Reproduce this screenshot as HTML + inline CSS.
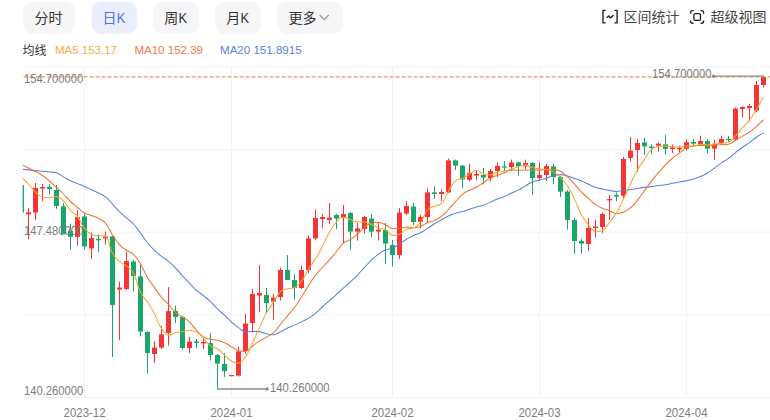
<!DOCTYPE html><html><head><meta charset="utf-8"><title>K</title><style>html,body{margin:0;padding:0;background:#fff;overflow:hidden}svg{display:block}</style></head><body><svg width="770" height="420" viewBox="0 0 770 420"><rect width="770" height="420" fill="#fff"/><rect x="23.0" y="1.7" width="52.0" height="32" rx="9.5" fill="#f6f6f8"/><text x="34.60" y="22.70" font-size="14" fill="#333" text-anchor="start" font-family="Liberation Sans, Noto Sans CJK SC, sans-serif">分时</text><rect x="91.4" y="1.7" width="45.6" height="32" rx="9.5" fill="#ebeffd"/><text x="102.50" y="22.70" font-size="14" fill="#4d74e0" text-anchor="start" font-family="Liberation Sans, Noto Sans CJK SC, sans-serif">日</text><text x="116.80" y="22.70" font-size="14.00" fill="#4d74e0" text-anchor="start" font-family="Liberation Sans, sans-serif" textLength="8.60" lengthAdjust="spacingAndGlyphs" >K</text><rect x="153.0" y="1.7" width="46.0" height="32" rx="9.5" fill="#f6f6f8"/><text x="164.30" y="22.70" font-size="14" fill="#333" text-anchor="start" font-family="Liberation Sans, Noto Sans CJK SC, sans-serif">周</text><text x="178.60" y="22.70" font-size="14.00" fill="#333" text-anchor="start" font-family="Liberation Sans, sans-serif" textLength="8.60" lengthAdjust="spacingAndGlyphs" >K</text><rect x="215.0" y="1.7" width="46.0" height="32" rx="9.5" fill="#f6f6f8"/><text x="226.30" y="22.70" font-size="14" fill="#333" text-anchor="start" font-family="Liberation Sans, Noto Sans CJK SC, sans-serif">月</text><text x="240.60" y="22.70" font-size="14.00" fill="#333" text-anchor="start" font-family="Liberation Sans, sans-serif" textLength="8.60" lengthAdjust="spacingAndGlyphs" >K</text><rect x="277.0" y="1.7" width="66.0" height="32" rx="9.5" fill="#f6f6f8"/><text x="288.60" y="22.70" font-size="14" fill="#333" text-anchor="start" font-family="Liberation Sans, Noto Sans CJK SC, sans-serif">更多</text><path d="M319.6 15 L324.2 19.6 L328.8 15" fill="none" stroke="#999" stroke-width="1.2"/><path d="M605.6 10.4 H603 V22.9 H605.6 M614.5 10.4 H617.1 V22.9 H614.5 M606.8 17.8 L608.7 16 L610.6 17.9 L613.5 15" fill="none" stroke="#1c1c1c" stroke-width="1.35" stroke-linejoin="round"/><text x="623.60" y="22.00" font-size="14" fill="#444" text-anchor="start" font-family="Liberation Sans, Noto Sans CJK SC, sans-serif">区间统计</text><path d="M690.6 13.7 V12.7 a2 2 0 0 1 2 -2 H693.6 M700.6 10.7 H701.6 a2 2 0 0 1 2 2 V13.7 M703.6 20.4 V21.3 a2 2 0 0 1 -2 2 H700.6 M693.6 23.3 H692.6 a2 2 0 0 1 -2 -2 V20.4" fill="none" stroke="#1c1c1c" stroke-width="1.3"/><rect x="693.9" y="13.6" width="6.6" height="6.8" rx="1.5" fill="none" stroke="#1c1c1c" stroke-width="1.3"/><text x="710.40" y="22.00" font-size="14" fill="#444" text-anchor="start" font-family="Liberation Sans, Noto Sans CJK SC, sans-serif">超级视图</text><text x="22.60" y="54.60" font-size="12" fill="#333" text-anchor="start" font-family="Liberation Sans, Noto Sans CJK SC, sans-serif">均线</text><text x="55.00" y="54.00" font-size="11.50" fill="#f6ab4a" text-anchor="start" font-family="Liberation Sans, sans-serif" textLength="62.00" lengthAdjust="spacingAndGlyphs" >MA5 153.17</text><text x="134.40" y="54.00" font-size="11.50" fill="#ef7a4c" text-anchor="start" font-family="Liberation Sans, sans-serif" textLength="68.60" lengthAdjust="spacingAndGlyphs" >MA10 152.39</text><text x="220.00" y="54.00" font-size="11.50" fill="#5a82e6" text-anchor="start" font-family="Liberation Sans, sans-serif" textLength="81.60" lengthAdjust="spacingAndGlyphs" >MA20 151.8915</text><line x1="22" x2="770" y1="67.0" y2="67.0" stroke="#f3f3f6" stroke-width="1"/><line x1="22" x2="770" y1="149.6" y2="149.6" stroke="#f3f3f6" stroke-width="1"/><line x1="22" x2="770" y1="232.2" y2="232.2" stroke="#f3f3f6" stroke-width="1"/><line x1="22" x2="770" y1="314.8" y2="314.8" stroke="#f3f3f6" stroke-width="1"/><line x1="22" x2="770" y1="397.4" y2="397.4" stroke="#f3f3f6" stroke-width="1"/><line x1="84.5" x2="84.5" y1="67" y2="397.4" stroke="#f3f3f6" stroke-width="1"/><line x1="231.5" x2="231.5" y1="67" y2="397.4" stroke="#f3f3f6" stroke-width="1"/><line x1="392.5" x2="392.5" y1="67" y2="397.4" stroke="#f3f3f6" stroke-width="1"/><line x1="539.5" x2="539.5" y1="67" y2="397.4" stroke="#f3f3f6" stroke-width="1"/><line x1="686.5" x2="686.5" y1="67" y2="397.4" stroke="#f3f3f6" stroke-width="1"/><clipPath id="cp"><rect x="22.7" y="60" width="748" height="340"/></clipPath><g clip-path="url(#cp)"><rect x="21.0" y="185.0" width="1" height="27.6" fill="#1aa668"/><rect x="19.0" y="185.0" width="5" height="27.6" fill="#1aa668"/><rect x="28.0" y="207.9" width="1" height="31.4" fill="#f53535"/><rect x="26.0" y="212.3" width="5" height="2.0" fill="#f53535"/><rect x="35.0" y="183.0" width="1" height="37.0" fill="#f53535"/><rect x="33.0" y="188.0" width="5" height="24.5" fill="#f53535"/><rect x="42.0" y="184.0" width="1" height="17.0" fill="#f53535"/><rect x="40.0" y="187.0" width="5" height="1.6" fill="#f53535"/><rect x="49.0" y="184.0" width="1" height="10.4" fill="#1aa668"/><rect x="47.0" y="186.8" width="5" height="2.2" fill="#1aa668"/><rect x="56.0" y="185.0" width="1" height="23.8" fill="#1aa668"/><rect x="54.0" y="190.0" width="5" height="16.0" fill="#1aa668"/><rect x="63.0" y="203.0" width="1" height="31.5" fill="#1aa668"/><rect x="61.0" y="206.4" width="5" height="27.9" fill="#1aa668"/><rect x="70.0" y="223.6" width="1" height="26.0" fill="#1aa668"/><rect x="68.0" y="230.7" width="5" height="6.2" fill="#1aa668"/><rect x="77.0" y="210.0" width="1" height="35.7" fill="#f53535"/><rect x="75.0" y="217.0" width="5" height="19.9" fill="#f53535"/><rect x="84.0" y="213.6" width="1" height="36.0" fill="#1aa668"/><rect x="82.0" y="216.4" width="5" height="30.0" fill="#1aa668"/><rect x="91.0" y="232.5" width="1" height="26.5" fill="#f53535"/><rect x="89.0" y="238.0" width="5" height="10.5" fill="#f53535"/><rect x="98.0" y="234.3" width="1" height="17.7" fill="#1aa668"/><rect x="96.0" y="238.9" width="5" height="1.4" fill="#1aa668"/><rect x="105.0" y="231.5" width="1" height="13.0" fill="#f53535"/><rect x="103.0" y="236.5" width="5" height="1.8" fill="#f53535"/><rect x="112.0" y="236.0" width="1" height="121.0" fill="#1aa668"/><rect x="110.0" y="236.4" width="5" height="68.6" fill="#1aa668"/><rect x="119.0" y="281.6" width="1" height="58.4" fill="#f53535"/><rect x="117.0" y="287.5" width="5" height="2.0" fill="#f53535"/><rect x="126.0" y="252.0" width="1" height="38.0" fill="#f53535"/><rect x="124.0" y="261.0" width="5" height="28.0" fill="#f53535"/><rect x="133.0" y="260.0" width="1" height="31.6" fill="#1aa668"/><rect x="131.0" y="261.6" width="5" height="14.4" fill="#1aa668"/><rect x="140.0" y="264.0" width="1" height="72.4" fill="#1aa668"/><rect x="138.0" y="276.4" width="5" height="55.2" fill="#1aa668"/><rect x="147.0" y="331.0" width="1" height="42.6" fill="#1aa668"/><rect x="145.0" y="332.0" width="5" height="21.0" fill="#1aa668"/><rect x="154.0" y="341.0" width="1" height="22.0" fill="#f53535"/><rect x="152.0" y="347.6" width="5" height="6.4" fill="#f53535"/><rect x="161.0" y="326.0" width="1" height="23.0" fill="#f53535"/><rect x="159.0" y="334.4" width="5" height="13.2" fill="#f53535"/><rect x="168.0" y="287.0" width="1" height="58.6" fill="#f53535"/><rect x="166.0" y="311.0" width="5" height="22.0" fill="#f53535"/><rect x="175.0" y="305.6" width="1" height="17.4" fill="#1aa668"/><rect x="173.0" y="311.0" width="5" height="6.0" fill="#1aa668"/><rect x="182.0" y="316.0" width="1" height="33.6" fill="#1aa668"/><rect x="180.0" y="317.0" width="5" height="31.0" fill="#1aa668"/><rect x="189.0" y="337.0" width="1" height="16.0" fill="#f53535"/><rect x="187.0" y="341.6" width="5" height="6.4" fill="#f53535"/><rect x="196.0" y="339.0" width="1" height="9.0" fill="#1aa668"/><rect x="194.0" y="341.5" width="5" height="1.5" fill="#1aa668"/><rect x="203.0" y="338.0" width="1" height="11.0" fill="#f53535"/><rect x="201.0" y="342.0" width="5" height="1.5" fill="#f53535"/><rect x="210.0" y="333.0" width="1" height="27.4" fill="#1aa668"/><rect x="208.0" y="343.0" width="5" height="12.0" fill="#1aa668"/><rect x="217.0" y="354.0" width="1" height="35.5" fill="#1aa668"/><rect x="215.0" y="355.0" width="5" height="8.6" fill="#1aa668"/><rect x="224.0" y="353.0" width="1" height="24.0" fill="#1aa668"/><rect x="222.0" y="364.0" width="5" height="7.0" fill="#1aa668"/><rect x="231.0" y="375.0" width="1" height="1.2" fill="#f53535"/><rect x="229.0" y="375.0" width="5" height="1.2" fill="#f53535"/><rect x="238.0" y="346.6" width="1" height="30.0" fill="#f53535"/><rect x="236.0" y="351.4" width="5" height="24.2" fill="#f53535"/><rect x="245.0" y="313.6" width="1" height="40.0" fill="#f53535"/><rect x="243.0" y="323.6" width="5" height="27.4" fill="#f53535"/><rect x="252.0" y="289.0" width="1" height="43.4" fill="#f53535"/><rect x="250.0" y="294.0" width="5" height="29.0" fill="#f53535"/><rect x="259.0" y="265.0" width="1" height="47.0" fill="#f53535"/><rect x="257.0" y="293.0" width="5" height="2.6" fill="#f53535"/><rect x="266.0" y="288.0" width="1" height="26.0" fill="#1aa668"/><rect x="264.0" y="295.0" width="5" height="8.0" fill="#1aa668"/><rect x="273.0" y="294.0" width="1" height="25.6" fill="#f53535"/><rect x="271.0" y="297.6" width="5" height="4.0" fill="#f53535"/><rect x="280.0" y="267.6" width="1" height="32.8" fill="#f53535"/><rect x="278.0" y="270.0" width="5" height="27.0" fill="#f53535"/><rect x="287.0" y="255.0" width="1" height="25.0" fill="#1aa668"/><rect x="285.0" y="270.0" width="5" height="10.0" fill="#1aa668"/><rect x="294.0" y="274.0" width="1" height="25.6" fill="#1aa668"/><rect x="292.0" y="280.0" width="5" height="8.0" fill="#1aa668"/><rect x="301.0" y="265.6" width="1" height="23.4" fill="#f53535"/><rect x="299.0" y="270.0" width="5" height="18.0" fill="#f53535"/><rect x="308.0" y="235.6" width="1" height="37.4" fill="#f53535"/><rect x="306.0" y="238.4" width="5" height="31.6" fill="#f53535"/><rect x="315.0" y="209.4" width="1" height="31.0" fill="#f53535"/><rect x="313.0" y="218.0" width="5" height="20.4" fill="#f53535"/><rect x="322.0" y="214.0" width="1" height="14.4" fill="#f53535"/><rect x="320.0" y="217.0" width="5" height="2.0" fill="#f53535"/><rect x="329.0" y="203.0" width="1" height="21.0" fill="#f53535"/><rect x="327.0" y="217.6" width="5" height="2.4" fill="#f53535"/><rect x="336.0" y="213.6" width="1" height="15.4" fill="#1aa668"/><rect x="334.0" y="215.0" width="5" height="3.6" fill="#1aa668"/><rect x="343.0" y="205.0" width="1" height="38.0" fill="#f53535"/><rect x="341.0" y="214.0" width="5" height="4.0" fill="#f53535"/><rect x="350.0" y="212.0" width="1" height="37.6" fill="#1aa668"/><rect x="348.0" y="213.0" width="5" height="18.6" fill="#1aa668"/><rect x="357.0" y="223.0" width="1" height="17.6" fill="#f53535"/><rect x="355.0" y="228.4" width="5" height="3.2" fill="#f53535"/><rect x="364.0" y="215.6" width="1" height="18.0" fill="#f53535"/><rect x="362.0" y="217.0" width="5" height="12.0" fill="#f53535"/><rect x="371.0" y="214.0" width="1" height="23.0" fill="#1aa668"/><rect x="369.0" y="218.6" width="5" height="13.0" fill="#1aa668"/><rect x="378.0" y="223.0" width="1" height="17.4" fill="#f53535"/><rect x="376.0" y="229.6" width="5" height="2.0" fill="#f53535"/><rect x="385.0" y="223.0" width="1" height="41.0" fill="#1aa668"/><rect x="383.0" y="230.0" width="5" height="13.6" fill="#1aa668"/><rect x="392.0" y="240.0" width="1" height="26.6" fill="#1aa668"/><rect x="390.0" y="245.0" width="5" height="10.0" fill="#1aa668"/><rect x="399.0" y="208.0" width="1" height="51.0" fill="#f53535"/><rect x="397.0" y="212.6" width="5" height="42.4" fill="#f53535"/><rect x="406.0" y="201.0" width="1" height="14.0" fill="#f53535"/><rect x="404.0" y="206.0" width="5" height="7.6" fill="#f53535"/><rect x="413.0" y="203.0" width="1" height="22.0" fill="#1aa668"/><rect x="411.0" y="206.6" width="5" height="15.4" fill="#1aa668"/><rect x="420.0" y="215.0" width="1" height="13.4" fill="#f53535"/><rect x="418.0" y="217.0" width="5" height="5.0" fill="#f53535"/><rect x="427.0" y="188.4" width="1" height="34.6" fill="#f53535"/><rect x="425.0" y="192.4" width="5" height="24.6" fill="#f53535"/><rect x="434.0" y="186.6" width="1" height="12.4" fill="#1aa668"/><rect x="432.0" y="192.4" width="5" height="1.6" fill="#1aa668"/><rect x="441.0" y="189.0" width="1" height="12.0" fill="#f53535"/><rect x="439.0" y="192.0" width="5" height="2.0" fill="#f53535"/><rect x="448.0" y="158.4" width="1" height="34.6" fill="#f53535"/><rect x="446.0" y="160.4" width="5" height="32.0" fill="#f53535"/><rect x="455.0" y="159.6" width="1" height="10.4" fill="#1aa668"/><rect x="453.0" y="160.4" width="5" height="5.2" fill="#1aa668"/><rect x="462.0" y="164.6" width="1" height="23.4" fill="#1aa668"/><rect x="460.0" y="165.6" width="5" height="13.8" fill="#1aa668"/><rect x="469.0" y="163.8" width="1" height="17.7" fill="#f53535"/><rect x="467.0" y="173.0" width="5" height="6.9" fill="#f53535"/><rect x="476.0" y="171.0" width="1" height="9.4" fill="#f53535"/><rect x="474.0" y="174.0" width="5" height="1.6" fill="#f53535"/><rect x="483.0" y="168.0" width="1" height="16.4" fill="#1aa668"/><rect x="481.0" y="175.0" width="5" height="2.6" fill="#1aa668"/><rect x="490.0" y="169.0" width="1" height="12.0" fill="#f53535"/><rect x="488.0" y="171.0" width="5" height="7.0" fill="#f53535"/><rect x="497.0" y="162.4" width="1" height="14.6" fill="#f53535"/><rect x="495.0" y="166.0" width="5" height="5.0" fill="#f53535"/><rect x="504.0" y="161.0" width="1" height="10.0" fill="#1aa668"/><rect x="502.0" y="166.4" width="5" height="1.2" fill="#1aa668"/><rect x="511.0" y="159.6" width="1" height="11.4" fill="#f53535"/><rect x="509.0" y="162.4" width="5" height="4.6" fill="#f53535"/><rect x="518.0" y="161.6" width="1" height="14.0" fill="#1aa668"/><rect x="516.0" y="162.4" width="5" height="4.0" fill="#1aa668"/><rect x="525.0" y="159.6" width="1" height="10.0" fill="#f53535"/><rect x="523.0" y="163.0" width="5" height="3.4" fill="#f53535"/><rect x="532.0" y="162.0" width="1" height="33.0" fill="#1aa668"/><rect x="530.0" y="163.0" width="5" height="15.0" fill="#1aa668"/><rect x="539.0" y="162.0" width="1" height="18.0" fill="#f53535"/><rect x="537.0" y="175.0" width="5" height="3.0" fill="#f53535"/><rect x="546.0" y="164.0" width="1" height="17.0" fill="#f53535"/><rect x="544.0" y="166.0" width="5" height="9.0" fill="#f53535"/><rect x="553.0" y="164.0" width="1" height="20.0" fill="#1aa668"/><rect x="551.0" y="166.4" width="5" height="10.6" fill="#1aa668"/><rect x="560.0" y="176.0" width="1" height="21.0" fill="#1aa668"/><rect x="558.0" y="177.0" width="5" height="14.6" fill="#1aa668"/><rect x="567.0" y="190.0" width="1" height="39.6" fill="#1aa668"/><rect x="565.0" y="191.6" width="5" height="28.4" fill="#1aa668"/><rect x="574.0" y="218.0" width="1" height="36.0" fill="#1aa668"/><rect x="572.0" y="220.0" width="5" height="21.0" fill="#1aa668"/><rect x="581.0" y="239.0" width="1" height="14.6" fill="#1aa668"/><rect x="579.0" y="241.0" width="5" height="2.6" fill="#1aa668"/><rect x="588.0" y="218.0" width="1" height="33.0" fill="#f53535"/><rect x="586.0" y="228.0" width="5" height="16.0" fill="#f53535"/><rect x="595.0" y="220.0" width="1" height="17.6" fill="#f53535"/><rect x="593.0" y="226.6" width="5" height="1.4" fill="#f53535"/><rect x="602.0" y="212.4" width="1" height="20.6" fill="#f53535"/><rect x="600.0" y="214.0" width="5" height="13.0" fill="#f53535"/><rect x="609.0" y="195.0" width="1" height="25.0" fill="#f53535"/><rect x="607.0" y="199.0" width="5" height="1.4" fill="#f53535"/><rect x="616.0" y="192.4" width="1" height="8.6" fill="#1aa668"/><rect x="614.0" y="195.0" width="5" height="1.6" fill="#1aa668"/><rect x="623.0" y="157.0" width="1" height="41.0" fill="#f53535"/><rect x="621.0" y="159.0" width="5" height="36.6" fill="#f53535"/><rect x="630.0" y="137.0" width="1" height="24.6" fill="#f53535"/><rect x="628.0" y="150.6" width="5" height="7.4" fill="#f53535"/><rect x="637.0" y="139.0" width="1" height="32.6" fill="#f53535"/><rect x="635.0" y="143.0" width="5" height="7.0" fill="#f53535"/><rect x="644.0" y="137.6" width="1" height="17.4" fill="#1aa668"/><rect x="642.0" y="142.4" width="5" height="4.0" fill="#1aa668"/><rect x="651.0" y="144.4" width="1" height="10.0" fill="#1aa668"/><rect x="649.0" y="146.6" width="5" height="1.4" fill="#1aa668"/><rect x="658.0" y="142.4" width="1" height="9.2" fill="#f53535"/><rect x="656.0" y="143.6" width="5" height="2.0" fill="#f53535"/><rect x="665.0" y="135.0" width="1" height="19.6" fill="#1aa668"/><rect x="663.0" y="144.4" width="5" height="4.4" fill="#1aa668"/><rect x="672.0" y="144.4" width="1" height="8.8" fill="#f53535"/><rect x="670.0" y="147.3" width="5" height="1.6" fill="#f53535"/><rect x="679.0" y="145.6" width="1" height="6.7" fill="#f53535"/><rect x="677.0" y="147.8" width="5" height="1.5" fill="#f53535"/><rect x="686.0" y="139.4" width="1" height="11.2" fill="#f53535"/><rect x="684.0" y="142.2" width="5" height="6.6" fill="#f53535"/><rect x="693.0" y="139.0" width="1" height="7.0" fill="#1aa668"/><rect x="691.0" y="142.0" width="5" height="1.6" fill="#1aa668"/><rect x="700.0" y="135.6" width="1" height="10.4" fill="#f53535"/><rect x="698.0" y="141.0" width="5" height="3.0" fill="#f53535"/><rect x="707.0" y="139.0" width="1" height="14.3" fill="#1aa668"/><rect x="705.0" y="141.0" width="5" height="7.7" fill="#1aa668"/><rect x="714.0" y="139.6" width="1" height="20.2" fill="#f53535"/><rect x="712.0" y="143.8" width="5" height="4.9" fill="#f53535"/><rect x="721.0" y="135.6" width="1" height="8.4" fill="#f53535"/><rect x="719.0" y="139.0" width="5" height="4.0" fill="#f53535"/><rect x="728.0" y="136.0" width="1" height="6.4" fill="#1aa668"/><rect x="726.0" y="139.0" width="5" height="1.0" fill="#1aa668"/><rect x="735.0" y="107.6" width="1" height="32.7" fill="#f53535"/><rect x="733.0" y="108.6" width="5" height="30.8" fill="#f53535"/><rect x="742.0" y="106.4" width="1" height="11.2" fill="#f53535"/><rect x="740.0" y="107.0" width="5" height="2.0" fill="#f53535"/><rect x="749.0" y="104.0" width="1" height="17.6" fill="#f53535"/><rect x="747.0" y="106.0" width="5" height="2.0" fill="#f53535"/><rect x="756.0" y="81.0" width="1" height="31.4" fill="#f53535"/><rect x="754.0" y="85.0" width="5" height="25.6" fill="#f53535"/><rect x="763.0" y="76.0" width="1" height="11.6" fill="#f53535"/><rect x="761.0" y="77.0" width="5" height="8.0" fill="#f53535"/><path d="M21.50 169.20 C21.50 169.20 25.00 169.54 28.50 169.88 C32.00 170.22 32.00 170.22 35.50 170.56 C39.00 170.90 39.00 170.90 42.50 171.24 C46.00 171.59 46.00 171.57 49.50 171.93 C53.00 172.28 53.26 171.93 56.50 172.66 C60.26 174.00 59.96 174.85 63.50 176.91 C66.96 178.91 66.90 179.05 70.50 180.77 C73.90 182.41 74.00 182.20 77.50 183.63 C81.00 185.06 81.04 184.98 84.50 186.49 C88.04 188.04 88.00 188.12 91.50 189.75 C95.00 191.38 95.07 191.25 98.50 193.00 C102.07 194.83 102.39 194.46 105.50 196.92 C109.39 199.98 109.09 200.40 112.50 204.06 C116.09 207.92 115.76 208.25 119.50 211.94 C122.76 215.15 123.02 214.88 126.50 217.88 C130.02 220.91 130.36 220.60 133.50 224.00 C137.36 228.19 137.08 228.47 140.50 233.06 C144.08 237.86 143.73 238.14 147.50 242.77 C150.73 246.75 150.82 246.72 154.50 250.30 C157.82 253.53 157.86 253.52 161.50 256.39 C164.86 259.04 165.18 258.63 168.50 261.32 C172.18 264.32 172.20 264.36 175.50 267.77 C179.20 271.61 178.95 271.85 182.50 275.82 C185.95 279.69 185.90 279.73 189.50 283.46 C192.90 286.97 192.82 287.09 196.50 290.31 C199.82 293.21 200.06 292.92 203.50 295.69 C207.06 298.56 207.18 298.45 210.50 301.59 C214.18 305.07 213.86 305.40 217.50 308.92 C220.86 312.18 221.08 311.96 224.50 315.15 C228.08 318.50 227.84 318.76 231.50 322.00 C234.84 324.96 234.86 324.98 238.50 327.56 C241.86 329.94 241.72 330.89 245.50 331.92 C248.72 331.92 249.00 331.43 252.50 331.37 C256.00 331.37 256.07 331.37 259.50 331.64 C263.07 332.25 262.95 332.93 266.50 333.74 C269.95 334.52 270.13 334.82 273.50 334.82 C277.13 334.30 277.06 333.40 280.50 331.74 C284.06 330.03 283.94 329.78 287.50 328.09 C290.94 326.46 291.02 326.65 294.50 325.11 C298.02 323.55 298.04 323.58 301.50 321.89 C305.04 320.16 305.15 320.32 308.50 318.26 C312.15 316.03 312.20 316.02 315.50 313.31 C319.20 310.27 318.96 309.99 322.50 306.76 C325.96 303.61 326.00 303.66 329.50 300.56 C333.00 297.45 333.02 297.47 336.50 294.34 C340.02 291.16 339.97 291.11 343.50 287.94 C346.97 284.82 347.07 284.93 350.50 281.77 C354.07 278.47 354.12 278.50 357.50 275.01 C361.12 271.27 360.93 271.10 364.50 267.31 C367.93 263.66 367.87 263.58 371.50 260.14 C374.87 256.95 374.75 256.75 378.50 254.05 C381.75 251.70 381.82 251.61 385.50 250.05 C388.82 248.64 389.18 249.51 392.50 248.10 C396.18 246.53 396.09 246.24 399.50 244.08 C403.09 241.80 402.88 241.46 406.50 239.23 C409.88 237.15 409.89 237.11 413.50 235.45 C416.89 233.89 417.17 234.47 420.50 232.80 C424.17 230.96 424.04 230.67 427.50 228.42 C431.04 226.13 430.91 225.92 434.50 223.72 C437.91 221.62 438.00 221.77 441.50 219.82 C445.00 217.87 444.88 217.61 448.50 215.92 C451.88 214.35 451.95 214.44 455.50 213.30 C458.95 212.19 459.02 212.44 462.50 211.42 C466.02 210.39 466.00 210.30 469.50 209.19 C473.00 208.07 472.97 207.98 476.50 206.96 C479.97 205.96 480.09 206.32 483.50 205.14 C487.09 203.90 487.01 203.64 490.50 202.11 C494.01 200.57 493.94 200.41 497.50 198.99 C500.94 197.61 501.09 197.96 504.50 196.52 C508.09 195.00 507.97 194.73 511.50 193.06 C514.97 191.42 515.09 191.65 518.50 189.90 C522.09 188.06 521.98 187.85 525.50 185.87 C528.98 183.91 528.83 183.52 532.50 182.02 C535.83 180.66 536.01 181.11 539.50 180.14 C543.01 179.17 543.02 179.20 546.50 178.14 C550.02 177.07 549.94 176.78 553.50 175.89 C556.94 175.02 557.01 174.62 560.50 174.62 C564.01 174.65 564.06 175.08 567.50 176.00 C571.06 176.95 571.02 177.12 574.50 178.35 C578.02 179.59 578.07 179.47 581.50 180.93 C585.07 182.45 584.97 182.69 588.50 184.31 C591.97 185.90 591.90 186.13 595.50 187.36 C598.90 188.52 598.98 188.33 602.50 189.09 C605.98 189.84 605.99 189.78 609.50 190.39 C612.99 191.00 612.99 191.47 616.50 191.52 C619.99 191.52 620.00 191.08 623.50 190.59 C627.00 190.10 627.00 190.11 630.50 189.57 C634.00 189.03 634.00 188.97 637.50 188.42 C641.00 187.87 640.99 187.81 644.50 187.36 C647.99 186.92 648.01 187.10 651.50 186.64 C655.01 186.17 654.99 185.96 658.50 185.50 C661.99 185.04 662.03 185.35 665.50 184.79 C669.03 184.22 668.99 183.98 672.50 183.25 C675.99 182.53 675.99 182.53 679.50 181.90 C682.99 181.26 683.02 181.42 686.50 180.70 C690.02 179.99 690.06 180.07 693.50 179.03 C697.06 177.97 697.09 177.99 700.50 176.50 C704.09 174.94 704.14 174.96 707.50 172.94 C711.14 170.75 711.04 170.57 714.50 168.08 C718.04 165.53 717.90 165.32 721.50 162.85 C724.90 160.51 725.18 160.89 728.50 158.45 C732.18 155.74 731.93 155.42 735.50 152.55 C738.93 149.79 738.92 149.76 742.50 147.20 C745.92 144.76 746.11 145.03 749.50 142.55 C753.11 139.91 752.83 139.51 756.50 136.97 C759.83 134.67 763.50 132.87 763.50 132.87" fill="none" stroke="#5a80e0" stroke-width="1.05" stroke-linejoin="round"/><path d="M21.50 164.50 C21.50 164.50 25.00 166.25 28.50 168.00 C32.00 169.75 32.05 169.65 35.50 171.50 C39.05 173.40 39.17 173.24 42.50 175.50 C46.17 177.99 46.12 178.11 49.50 181.00 C53.12 184.11 53.00 184.25 56.50 187.50 C60.00 190.75 60.12 190.62 63.50 194.00 C67.12 197.62 66.81 197.94 70.50 201.50 C73.81 204.69 73.93 204.58 77.50 207.50 C80.93 210.31 80.69 210.78 84.50 212.95 C87.69 214.77 88.02 214.16 91.50 215.49 C95.02 216.83 95.21 216.49 98.50 218.29 C102.21 220.32 102.82 219.95 105.50 223.14 C109.82 228.28 108.78 229.18 112.50 234.94 C115.78 240.01 115.47 240.37 119.50 244.79 C122.47 248.05 122.85 247.77 126.50 250.29 C129.85 252.60 130.64 251.67 133.50 254.46 C137.64 258.49 137.46 258.91 140.50 263.93 C144.46 270.45 143.62 270.96 147.50 277.53 C150.62 282.82 150.94 282.63 154.50 287.65 C157.94 292.51 157.69 292.74 161.50 297.29 C164.69 301.09 165.12 300.71 168.50 304.36 C172.12 308.27 171.55 308.92 175.50 312.41 C178.55 315.10 179.13 314.37 182.50 316.71 C186.13 319.23 186.34 319.05 189.50 322.12 C193.34 325.86 192.80 326.41 196.50 330.32 C199.80 333.81 199.54 334.39 203.50 336.92 C206.54 338.86 206.93 338.39 210.50 339.26 C213.93 340.09 214.07 339.49 217.50 340.32 C221.07 341.19 221.16 341.13 224.50 342.66 C228.16 344.33 228.00 344.69 231.50 346.72 C235.00 348.74 234.76 349.50 238.50 350.76 C241.76 351.42 242.40 351.42 245.50 351.42 C249.40 350.10 248.94 348.63 252.50 346.02 C255.94 343.50 255.90 343.44 259.50 341.16 C262.90 339.01 263.05 339.24 266.50 337.16 C270.05 335.02 270.49 335.50 273.50 332.72 C277.49 329.03 276.98 328.46 280.50 324.22 C283.98 320.03 283.99 320.03 287.50 315.86 C290.99 311.70 291.26 311.91 294.50 307.56 C298.26 302.51 298.09 302.37 301.50 297.06 C305.09 291.47 304.92 291.36 308.50 285.76 C311.92 280.43 311.66 280.21 315.50 275.20 C318.66 271.08 318.98 271.33 322.50 267.50 C325.98 263.71 326.11 263.83 329.50 259.96 C333.11 255.84 332.99 255.73 336.50 251.52 C339.99 247.33 339.46 246.68 343.50 243.16 C346.46 240.58 347.15 241.47 350.50 239.32 C354.15 236.97 354.24 237.02 357.50 234.16 C361.24 230.89 360.61 230.10 364.50 227.06 C367.61 224.63 367.78 224.47 371.50 223.22 C374.78 222.34 375.10 222.34 378.50 222.34 C382.10 222.77 382.12 223.36 385.50 224.90 C389.12 226.54 388.78 227.82 392.50 228.70 C395.78 228.70 396.02 228.64 399.50 228.20 C403.02 227.76 402.98 227.06 406.50 226.94 C409.98 226.94 410.03 227.74 413.50 227.74 C417.03 227.57 417.17 227.48 420.50 226.28 C424.17 224.95 423.88 224.20 427.50 222.68 C430.88 221.25 431.15 221.88 434.50 220.38 C438.15 218.75 438.35 218.87 441.50 216.42 C445.35 213.43 445.11 213.06 448.50 209.50 C452.11 205.70 451.97 205.57 455.50 201.70 C458.97 197.89 458.57 197.37 462.50 194.14 C465.57 191.61 465.92 192.01 469.50 190.18 C472.92 188.43 473.13 188.82 476.50 186.98 C480.13 185.00 480.02 184.79 483.50 182.54 C487.02 180.27 486.80 179.85 490.50 177.94 C493.80 176.23 494.00 176.62 497.50 175.30 C501.00 173.98 501.03 174.05 504.50 172.66 C508.03 171.25 507.86 170.31 511.50 169.70 C514.86 169.70 514.99 170.21 518.50 170.30 C521.99 170.30 522.00 170.14 525.50 170.04 C529.00 169.94 529.00 169.90 532.50 169.90 C536.00 169.92 536.01 170.10 539.50 170.10 C543.01 169.95 542.99 169.52 546.50 169.30 C549.99 169.24 550.07 169.24 553.50 169.24 C557.07 169.75 557.33 169.61 560.50 171.30 C564.33 173.34 564.24 173.73 567.50 176.70 C571.24 180.10 571.10 180.28 574.50 184.04 C578.10 188.01 577.76 188.34 581.50 192.16 C584.76 195.48 585.02 195.21 588.50 198.32 C592.02 201.47 591.68 201.96 595.50 204.68 C598.68 206.94 598.89 206.73 602.50 208.28 C605.89 209.73 606.06 209.34 609.50 210.68 C613.06 212.07 612.90 213.42 616.50 213.74 C619.90 213.74 620.20 213.33 623.50 211.94 C627.20 210.38 627.43 210.42 630.50 207.84 C634.43 204.52 634.21 204.17 637.50 200.14 C641.21 195.59 641.01 195.42 644.50 190.68 C648.01 185.91 647.86 185.79 651.50 181.12 C654.86 176.79 654.92 176.83 658.50 172.68 C661.92 168.72 661.86 168.66 665.50 164.90 C668.86 161.43 668.81 161.34 672.50 158.23 C675.81 155.44 676.04 155.72 679.50 153.11 C683.04 150.44 682.63 149.60 686.50 147.67 C689.63 146.13 689.97 146.76 693.50 146.13 C696.97 145.51 696.99 145.27 700.50 145.17 C703.99 145.17 704.00 145.66 707.50 145.74 C711.00 145.74 711.01 145.74 714.50 145.48 C718.01 145.19 717.99 144.90 721.50 144.58 C724.99 144.27 725.25 144.58 728.50 144.22 C732.25 143.05 732.00 142.21 735.50 140.20 C739.00 138.19 739.02 138.21 742.50 136.17 C746.02 134.11 746.18 134.34 749.50 131.99 C753.18 129.39 753.12 129.26 756.50 126.27 C760.12 123.07 763.50 119.61 763.50 119.61" fill="none" stroke="#f0742c" stroke-width="1.05" stroke-linejoin="round"/><path d="M21.50 177.00 C21.50 177.00 25.12 180.38 28.50 184.00 C32.12 187.88 31.69 188.33 35.50 192.00 C38.69 195.08 38.58 195.88 42.50 197.50 C45.58 197.78 46.03 197.78 49.50 197.78 C53.03 197.52 53.26 196.46 56.50 196.46 C60.26 197.29 60.65 197.97 63.50 200.86 C67.65 205.06 66.54 206.17 70.50 210.64 C73.54 214.06 74.65 213.08 77.50 216.64 C81.65 221.82 80.40 222.88 84.50 228.12 C87.40 231.82 87.50 232.35 91.50 234.52 C94.50 235.72 94.97 235.44 98.50 235.72 C101.97 235.72 103.61 235.64 105.50 235.64 C110.61 242.04 108.04 245.02 112.50 253.24 C115.04 257.93 115.56 257.85 119.50 261.46 C122.56 264.26 123.31 263.38 126.50 266.06 C130.31 269.25 131.19 268.88 133.50 273.20 C138.19 281.96 136.09 283.20 140.50 292.22 C143.09 297.51 144.28 296.84 147.50 301.82 C151.28 307.65 151.27 307.69 154.50 313.84 C158.27 321.04 157.15 321.78 161.50 328.52 C164.15 332.62 164.54 334.36 168.50 335.52 C171.54 335.52 171.88 333.61 175.50 332.60 C178.88 331.65 179.01 332.15 182.50 331.60 C186.01 331.05 186.03 330.40 189.50 330.40 C193.03 330.53 193.45 330.40 196.50 332.12 C200.45 334.36 200.17 335.04 203.50 338.32 C207.17 341.94 206.48 342.84 210.50 345.92 C213.48 348.20 214.31 346.99 217.50 349.04 C221.31 351.49 221.06 351.91 224.50 354.92 C228.06 358.05 227.53 358.97 231.50 361.32 C234.53 363.11 235.45 363.20 238.50 363.20 C242.45 361.96 242.87 360.72 245.50 356.92 C249.87 350.62 249.16 350.04 252.50 343.00 C256.16 335.28 255.89 335.15 259.50 327.40 C262.89 320.15 262.61 319.98 266.50 313.00 C269.61 307.40 270.00 307.62 273.50 302.24 C277.00 296.88 276.09 295.77 280.50 291.52 C283.09 289.01 283.89 289.70 287.50 288.72 C290.89 287.80 291.53 288.72 294.50 287.72 C298.53 285.53 298.62 284.91 301.50 281.12 C305.62 275.69 304.84 275.10 308.50 269.28 C311.84 263.98 312.24 264.23 315.50 258.88 C319.24 252.73 319.15 252.66 322.50 246.28 C326.15 239.32 325.59 239.00 329.50 232.20 C332.59 226.82 332.35 226.42 336.50 221.92 C339.35 218.84 339.78 217.61 343.50 217.04 C346.78 217.04 346.97 218.50 350.50 219.76 C353.97 221.00 353.91 221.49 357.50 222.04 C360.91 222.04 361.11 221.92 364.50 221.92 C368.11 222.56 368.05 223.11 371.50 224.52 C375.05 225.97 374.94 226.24 378.50 227.64 C381.94 229.00 382.30 228.28 385.50 230.04 C389.30 232.14 388.62 234.13 392.50 235.36 C395.62 235.36 396.36 235.36 399.50 234.48 C403.36 232.83 402.67 231.18 406.50 229.36 C409.67 227.86 410.36 229.36 413.50 227.84 C417.36 225.96 417.84 225.91 420.50 222.52 C424.84 216.99 422.99 215.23 427.50 210.00 C429.99 207.11 430.91 207.95 434.50 206.28 C437.91 204.69 439.07 206.11 441.50 203.48 C446.07 198.55 444.77 197.18 448.50 191.16 C451.77 185.88 451.13 184.90 455.50 180.88 C458.13 178.46 459.16 179.90 462.50 178.28 C466.16 176.50 465.94 176.07 469.50 174.08 C472.94 172.17 472.98 170.52 476.50 170.48 C479.98 170.48 479.83 172.74 483.50 173.92 C486.83 175.00 487.10 175.00 490.50 175.00 C494.10 174.59 493.90 173.29 497.50 172.32 C500.90 171.41 501.07 172.07 504.50 171.24 C508.07 170.37 507.99 170.06 511.50 168.92 C514.99 167.78 514.96 167.65 518.50 166.68 C521.96 165.73 522.05 165.08 525.50 165.08 C529.05 165.28 528.94 166.49 532.50 167.48 C535.94 168.43 535.97 168.41 539.50 168.96 C542.97 169.51 543.07 168.98 546.50 169.68 C550.07 170.40 550.37 170.05 553.50 171.80 C557.37 173.97 557.33 174.32 560.50 177.52 C564.33 181.38 564.54 181.36 567.50 185.92 C571.54 192.16 571.23 192.41 574.50 199.12 C578.23 206.77 577.45 207.19 581.50 214.64 C584.45 220.05 584.61 220.06 588.50 224.84 C591.61 228.66 591.42 230.15 595.50 231.84 C598.42 231.84 599.74 231.84 602.50 230.64 C606.74 227.73 606.12 226.54 609.50 222.24 C613.12 217.64 613.48 217.84 616.50 212.84 C620.48 206.24 620.14 206.01 623.50 199.04 C627.14 191.51 626.90 191.39 630.50 183.84 C633.90 176.69 633.61 176.51 637.50 169.64 C640.61 164.15 640.91 164.32 644.50 159.12 C647.91 154.20 647.23 153.31 651.50 149.40 C654.23 146.91 654.85 147.22 658.50 146.32 C661.85 145.96 662.01 145.96 665.50 145.96 C669.01 146.09 668.99 146.53 672.50 146.82 C675.99 147.10 676.02 147.10 679.50 147.10 C683.02 146.88 682.98 146.23 686.50 145.94 C689.98 145.94 690.04 145.94 693.50 145.94 C697.04 145.55 696.96 144.70 700.50 144.38 C703.96 144.38 704.01 144.66 707.50 144.66 C711.01 144.53 711.00 144.22 714.50 143.86 C718.00 143.50 718.00 143.56 721.50 143.22 C725.00 142.88 725.53 143.22 728.50 142.50 C732.53 140.43 732.23 139.48 735.50 136.02 C739.23 132.07 738.90 131.76 742.50 127.68 C745.90 123.81 746.39 124.20 749.50 120.12 C753.39 115.02 753.20 114.84 756.50 109.32 C760.20 103.14 763.50 96.72 763.50 96.72" fill="none" stroke="#f7a72c" stroke-width="1.05" stroke-linejoin="round"/></g><line x1="23.5" x2="770" y1="76.9" y2="76.9" stroke="#f3935a" stroke-width="1.35" stroke-dasharray="4 2"/><path d="M713.6 76.2 H764" stroke="#8a8a8a" stroke-width="1.3" fill="none"/><circle cx="713.6" cy="76.2" r="1.7" fill="#8a8a8a"/><text x="652.00" y="78.10" font-size="12.00" fill="#7c7c7c" text-anchor="start" font-family="Liberation Sans, sans-serif" textLength="59.40" lengthAdjust="spacingAndGlyphs" >154.700000</text><path d="M217.5 389 H267" stroke="#8a8a8a" stroke-width="1.3" fill="none"/><circle cx="267" cy="389" r="1.7" fill="#8a8a8a"/><text x="270.00" y="392.00" font-size="12.00" fill="#7c7c7c" text-anchor="start" font-family="Liberation Sans, sans-serif" textLength="59.40" lengthAdjust="spacingAndGlyphs" >140.260000</text><text x="23.90" y="82.90" font-size="12.00" fill="#7c7c7c" text-anchor="start" font-family="Liberation Sans, sans-serif" textLength="59.40" lengthAdjust="spacingAndGlyphs" >154.700000</text><text x="23.90" y="235.00" font-size="12.00" fill="#7c7c7c" text-anchor="start" font-family="Liberation Sans, sans-serif" textLength="59.40" lengthAdjust="spacingAndGlyphs" >147.480000</text><text x="23.90" y="394.70" font-size="12.00" fill="#7c7c7c" text-anchor="start" font-family="Liberation Sans, sans-serif" textLength="59.40" lengthAdjust="spacingAndGlyphs" >140.260000</text><text x="84.60" y="416.90" font-size="12.00" fill="#7c7c7c" text-anchor="middle" font-family="Liberation Sans, sans-serif" textLength="42.00" lengthAdjust="spacingAndGlyphs" >2023-12</text><text x="231.50" y="416.90" font-size="12.00" fill="#7c7c7c" text-anchor="middle" font-family="Liberation Sans, sans-serif" textLength="42.00" lengthAdjust="spacingAndGlyphs" >2024-01</text><text x="392.50" y="416.90" font-size="12.00" fill="#7c7c7c" text-anchor="middle" font-family="Liberation Sans, sans-serif" textLength="42.00" lengthAdjust="spacingAndGlyphs" >2024-02</text><text x="539.50" y="416.90" font-size="12.00" fill="#7c7c7c" text-anchor="middle" font-family="Liberation Sans, sans-serif" textLength="42.00" lengthAdjust="spacingAndGlyphs" >2024-03</text><text x="686.50" y="416.90" font-size="12.00" fill="#7c7c7c" text-anchor="middle" font-family="Liberation Sans, sans-serif" textLength="42.00" lengthAdjust="spacingAndGlyphs" >2024-04</text></svg></body></html>
